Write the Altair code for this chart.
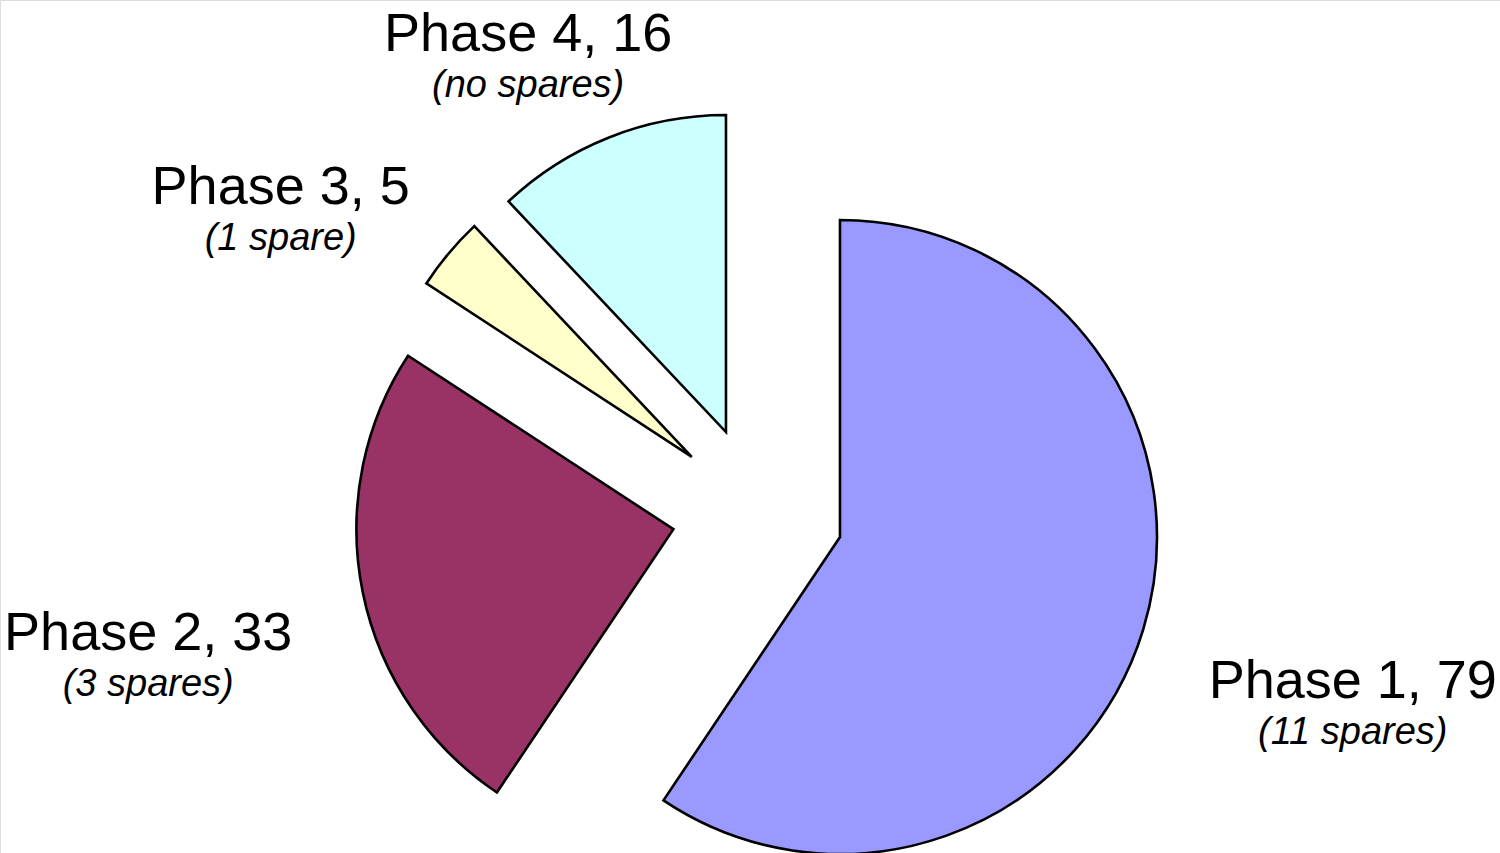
import altair as alt
import pandas as pd

# Build-phase counts for the exploded pie
phases = ["Phase 1", "Phase 2", "Phase 3", "Phase 4"]
counts = [79, 33, 5, 16]
spares = ["(11 spares)", "(3 spares)", "(1 spare)", "(no spares)"]
colors = ["#9999FF", "#993366", "#FFFFCC", "#CCFFFF"]

W, H = 1500, 853
CX, CY = 757.7, 512.0      # pie centre in pixels
RADIUS = 317               # slice radius
EXPLODE = 86               # distance each slice is pulled out from the centre
LABEL_A, LABEL_B = 622, 530  # label ellipse half-axes
LABEL_SHIFT = 32           # baseline shift of the label ellipse
FONT = "Helvetica, Liberation Sans, Arial, sans-serif"

df = pd.DataFrame({
    "order": range(len(phases)),
    "phase": phases,
    "count": counts,
    "spares": spares,
})
df["title"] = df["phase"] + ", " + df["count"].astype(str)

base = (
    alt.Chart(df)
    .transform_joinaggregate(total="sum(count)")
    .transform_window(cum="sum(count)", sort=[alt.SortField("order")], frame=[None, 0])
    .transform_calculate(
        f0="(datum.cum - datum.count) / datum.total",
        f1="datum.cum / datum.total",
    )
    .transform_calculate(mid="PI * (datum.f0 + datum.f1)")
    .transform_calculate(
        ox=f"{CX} + {EXPLODE} * sin(datum.mid)",
        oy=f"{CY} - {EXPLODE} * cos(datum.mid)",
        lx=f"{CX} + {LABEL_A} * sin(datum.mid)",
        ly=f"{CY} - {LABEL_B} * cos(datum.mid) + {LABEL_SHIFT}",
    )
)

slices = base.mark_arc(
    radius=RADIUS, stroke="black", strokeWidth=2.6, strokeJoin="miter"
).encode(
    theta=alt.Theta("f0:Q", scale=alt.Scale(domain=[0, 1], range=[0, 6.283185307179586])),
    theta2="f1:Q",
    x=alt.X("ox:Q", scale=None),
    y=alt.Y("oy:Q", scale=None),
    fill=alt.Fill("phase:N", scale=alt.Scale(domain=phases, range=colors), legend=None),
)

titles = base.mark_text(
    font=FONT, fontSize=54, align="center", baseline="alphabetic", color="black"
).encode(
    x=alt.X("lx:Q", scale=None),
    y=alt.Y("ly:Q", scale=None),
    text="title:N",
)

notes = base.mark_text(
    font=FONT, fontSize=38, fontStyle="italic", align="center",
    baseline="alphabetic", color="black", dy=46,
).encode(
    x=alt.X("lx:Q", scale=None),
    y=alt.Y("ly:Q", scale=None),
    text="spares:N",
)

chart = (
    alt.layer(slices, titles, notes)
    .properties(width=W, height=H, padding=0, autosize=alt.AutoSizeParams(type="none"))
    .configure_view(stroke=None)
    .configure(background="white")
)

chart.save("out.html", embed_options={"renderer": "svg", "actions": False})
